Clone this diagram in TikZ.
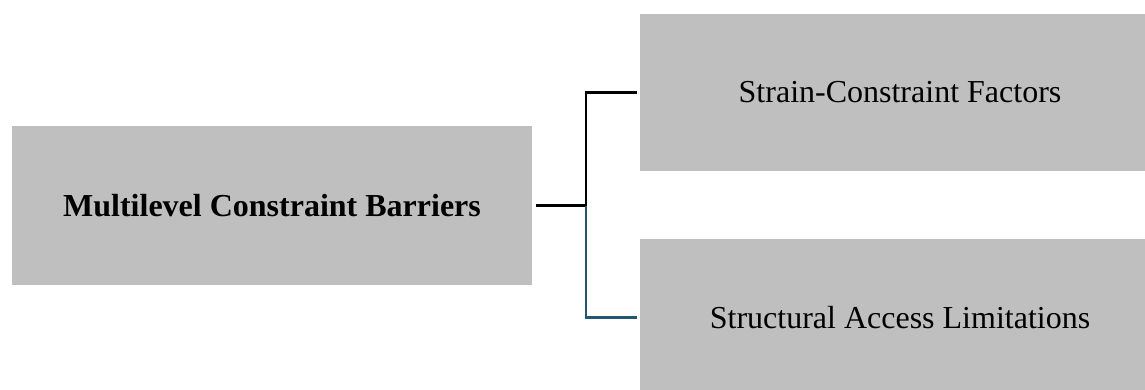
\documentclass[tikz,border=0pt]{standalone}
\usepackage{fontspec}
\setmainfont{Liberation Serif}
\usepackage{tikz}
\usetikzlibrary{positioning, calc}
\definecolor{BoxGray}{RGB}{191,191,191}
\definecolor{LinkBlue}{RGB}{33,88,112}

\begin{document}
\begin{tikzpicture}[x=0.5pt, y=-0.5pt, font=\fontsize{16}{19}\selectfont]
    \tikzset{
        mainblock/.style={rectangle, fill=BoxGray, minimum width=260pt,
            minimum height=79pt, align=center, font=\fontsize{16}{19}\selectfont\bfseries},
        subblock/.style={rectangle, fill=BoxGray, minimum width=260pt,
            minimum height=78.5pt, align=center},
        link/.style={line width=1.2pt}
    }
    \useasboundingbox (0,0) rectangle (1145,390);
    \node[mainblock] (barriers) at (272,205.5) {Multilevel Constraint Barriers};
    \node[subblock] (strain) at (900,92.5) {Strain-Constraint Factors};
    \node[subblock] (access) at (900,317.5) {Structural Access Limitations};
    \coordinate (split) at (586,205.5);
    \draw[link] ([xshift=2pt]barriers.east) -- (split) |- ([xshift=-1.5pt]strain.west);
    \draw[link, draw=LinkBlue] (split) |- ([xshift=-1.5pt]access.west);
\end{tikzpicture}
\end{document}
